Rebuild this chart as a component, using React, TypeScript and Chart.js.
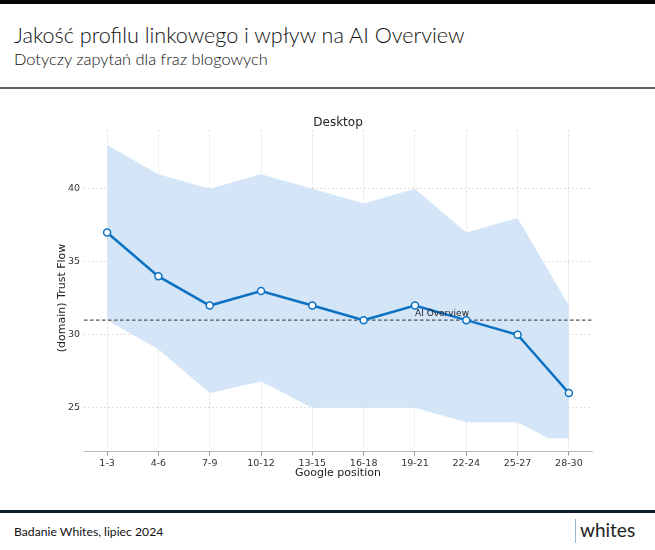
import React, { useEffect, useRef } from "react";
import { Chart, registerables } from "chart.js";

Chart.register(...registerables);

const categories = ["1-3", "4-6", "7-9", "10-12", "13-15", "16-18", "19-21", "22-24", "25-27", "28-30"];
const trustFlow = [37, 34, 32, 33, 32, 31, 32, 31, 30, 26];
const bandUpper = [43, 41, 40, 41, 40, 39, 40, 37, 38, 32];
const bandLower = [31, 29, 26, 26.8, 25, 25, 25, 24, 24, 22.9];
const bandLowerKinkPosition = 8.6;
const aiOverviewLevel = 31;
const aiOverviewLabel = "AI Overview";
const aiOverviewLabelPosition = 6;
const yTicks = [25, 30, 35, 40];
const yAxisTitle = "(domain) Trust Flow";

const CHART_FONT = "'DejaVu Sans', sans-serif";

export default function App() {
  const canvasRef = useRef<HTMLCanvasElement | null>(null);

  useEffect(() => {
    const canvas = canvasRef.current;
    if (!canvas) return;

    const lowerPoints = bandLower.map((v, i) => ({ x: i, y: v }));
    lowerPoints.splice(lowerPoints.length - 1, 0, {
      x: bandLowerKinkPosition,
      y: bandLower[bandLower.length - 1],
    });

    const refLinePlugin = {
      id: "refLine",
      afterDatasetDraw(chart: any, args: any) {
        if (args.index !== 1) return;
        const { ctx, chartArea, scales } = chart;
        const y = scales.y.getPixelForValue(aiOverviewLevel);
        ctx.save();
        ctx.strokeStyle = "#555555";
        ctx.lineWidth = 1.2;
        ctx.setLineDash([3.5, 2.5]);
        ctx.beginPath();
        ctx.moveTo(chartArea.left, y);
        ctx.lineTo(chartArea.right, y);
        ctx.stroke();
        ctx.restore();
      },
      afterDatasetsDraw(chart: any) {
        const { ctx, scales, chartArea } = chart;
        const y = scales.y.getPixelForValue(aiOverviewLevel);
        const x = scales.x.getPixelForValue(aiOverviewLabelPosition);
        ctx.save();
        ctx.fillStyle = "#222222";
        ctx.font = `9px ${CHART_FONT}`;
        ctx.textAlign = "left";
        ctx.textBaseline = "alphabetic";
        ctx.fillText(aiOverviewLabel, x, y - 4);
        ctx.restore();

        // y axis title
        ctx.save();
        ctx.fillStyle = "#222222";
        ctx.font = `11px ${CHART_FONT}`;
        ctx.textAlign = "center";
        ctx.textBaseline = "middle";
        ctx.translate(62, (chartArea.top + chartArea.bottom) / 2 + 7);
        ctx.rotate(-Math.PI / 2);
        ctx.fillText(yAxisTitle, 0, 0);
        ctx.restore();
      },
    };

    const gridColor = "rgba(0,0,0,0.16)";

    const chart = new Chart(canvas, {
      type: "line",
      data: {
        datasets: [
          {
            label: "Trust Flow",
            data: trustFlow.map((v, i) => ({ x: i, y: v })),
            borderColor: "#0b71c3",
            borderWidth: 2.5,
            pointRadius: 3.5,
            pointBorderWidth: 1.5,
            pointBackgroundColor: "#ffffff",
            pointBorderColor: "#0b71c3",
            fill: false,
            tension: 0,
          },
          {
            label: "upper",
            data: bandUpper.map((v, i) => ({ x: i, y: v })),
            borderWidth: 0,
            borderColor: "rgba(0,0,0,0)",
            pointRadius: 0,
            backgroundColor: "#d3e5f7",
            fill: "+1",
            tension: 0,
          },
          {
            label: "lower",
            data: lowerPoints,
            borderWidth: 0,
            borderColor: "rgba(0,0,0,0)",
            pointRadius: 0,
            fill: false,
            tension: 0,
          },
        ],
      },
      options: {
        animation: false,
        responsive: false,
        maintainAspectRatio: false,
        layout: { padding: { left: 0, right: 63, top: 0, bottom: 0 } },
        plugins: {
          legend: { display: false },
          tooltip: { enabled: false },
          title: {
            display: true,
            fullSize: false,
            text: "Desktop",
            color: "#222222",
            font: { family: CHART_FONT, size: 12, weight: "normal" },
            padding: { top: 21, bottom: 0 },
          },
        },
        scales: {
          x: {
            type: "linear",
            min: -0.45,
            max: 9.45,
            afterBuildTicks: (s: any) => {
              s.ticks = categories.map((_, i) => ({ value: i }));
            },
            afterFit: (s: any) => {
              s.height = 43.5;
            },
            ticks: {
              callback: (v: any) => categories[Math.round(Number(v))] ?? "",
              color: "#333333",
              font: { family: CHART_FONT, size: 9.5 },
              padding: 2,
              autoSkip: false,
              maxRotation: 0,
            },
            grid: {
              color: gridColor,
              lineWidth: 0.8,
              tickLength: 4,
              tickColor: "#999999",
              tickWidth: 1,
              tickBorderDash: [],
            },
            border: { display: true, color: "#bbbbbb", width: 1, dash: [2, 2] },
            title: {
              display: true,
              text: "Google position",
              color: "#222222",
              font: { family: CHART_FONT, size: 11 },
              padding: { top: 0, bottom: 15 },
            },
          },
          y: {
            type: "linear",
            min: 22,
            max: 44,
            afterBuildTicks: (s: any) => {
              s.ticks = yTicks.map((v) => ({ value: v }));
            },
            afterFit: (s: any) => {
              s.width = 84;
            },
            ticks: {
              color: "#333333",
              font: { family: CHART_FONT, size: 9.5 },
              padding: 4,
            },
            grid: { color: gridColor, lineWidth: 0.8, drawTicks: false },
            border: { display: false, dash: [2, 2] },
          },
        },
      },
      plugins: [refLinePlugin],
    } as any);

    return () => chart.destroy();
  }, []);

  const textFont = "Lato, 'Open Sans', sans-serif";

  return (
    <div
      style={{
        position: "absolute",
        left: 0,
        top: 0,
        width: 655,
        height: 550,
        background: "#ffffff",
        overflow: "hidden",
        fontFamily: textFont,
        color: "#111111",
      }}
    >
      <div style={{ position: "absolute", left: 0, top: 0, width: 655, height: 4, background: "#050505" }} />
      <div style={{ position: "absolute", left: 14, top: 23, fontSize: 21.6, fontWeight: 300, lineHeight: "24px", whiteSpace: "nowrap" }}>
        Jakość profilu linkowego i wpływ na AI Overview
      </div>
      <div style={{ position: "absolute", left: 14, top: 49, fontSize: 16.4, fontWeight: 300, lineHeight: "20px", whiteSpace: "nowrap" }}>
        Dotyczy zapytań dla fraz blogowych
      </div>
      <div style={{ position: "absolute", left: 0, top: 87, width: 655, height: 2, background: "#5e5e5e" }} />
      <canvas
        ref={canvasRef}
        width={655}
        height={400}
        style={{ position: "absolute", left: 0, top: 95, width: 655, height: 400 }}
      />
      <div style={{ position: "absolute", left: 0, top: 510, width: 655, height: 3, background: "#0c1a2b" }} />
      <div style={{ position: "absolute", left: 14, top: 524, fontSize: 12.2, fontWeight: 400, lineHeight: "16px", whiteSpace: "nowrap" }}>
        Badanie Whites, lipiec 2024
      </div>
      <div style={{ position: "absolute", left: 575, top: 519, width: 1, height: 24, background: "#9db6ca" }} />
      <div style={{ position: "absolute", left: 580, top: 519, fontSize: 19, lineHeight: "22px", whiteSpace: "nowrap", color: "#222" }}>
        whites
      </div>
    </div>
  );
}
